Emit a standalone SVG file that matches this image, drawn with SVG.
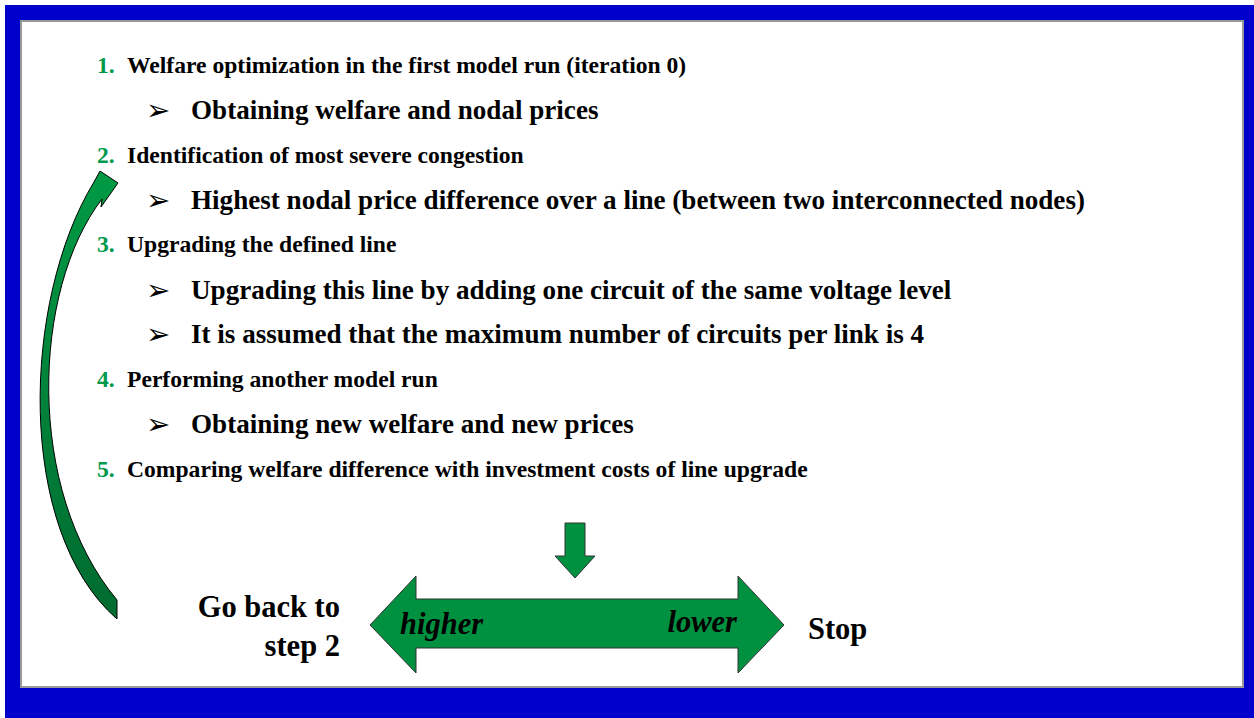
<svg xmlns="http://www.w3.org/2000/svg" width="1254" height="718" viewBox="0 0 1254 718">
<style>
.num{font-family:"Liberation Serif",serif;font-weight:bold;font-size:23.6px;fill:#00994C}
.item{font-family:"Liberation Serif",serif;font-weight:bold;font-size:23.6px;fill:#000}
.bul{font-family:"DejaVu Sans",sans-serif;font-size:29px;fill:#000}
.sub{font-family:"Liberation Serif",serif;font-weight:bold;font-size:27.1px;fill:#000}
.lbl{font-family:"Liberation Serif",serif;font-weight:bold;font-size:30.5px;fill:#000}
.it{font-family:"Liberation Serif",serif;font-weight:bold;font-style:italic;font-size:30.5px;fill:#000}
.garrow{fill:#009140;stroke:#333;stroke-width:1}
</style>
<defs>
<linearGradient id="cg" x1="0" y1="0" x2="0" y2="1">
<stop offset="0" stop-color="#009A44"/>
<stop offset="1" stop-color="#006B30"/>
</linearGradient>
</defs>
<rect x="0" y="0" width="1254" height="718" fill="#fff"/>
<rect x="5" y="5" width="1249" height="713" fill="#0000CC"/>
<rect x="21" y="21" width="1222" height="666" fill="#fff" stroke="#999" stroke-width="2"/>

<g id="list">
<text class="num" x="97" y="73">1.</text><text class="item" x="127" y="73">Welfare optimization in the first model run (iteration 0)</text>
<text class="bul" x="146" y="120">➢</text><text class="sub" x="191" y="119">Obtaining welfare and nodal prices</text>
<text class="num" x="97" y="163">2.</text><text class="item" x="127" y="163">Identification of most severe congestion</text>
<text class="bul" x="146" y="210">➢</text><text class="sub" x="191" y="209">Highest nodal price difference over a line (between two interconnected nodes)</text>
<text class="num" x="97" y="252">3.</text><text class="item" x="127" y="252">Upgrading the defined line</text>
<text class="bul" x="146" y="300">➢</text><text class="sub" x="191" y="299">Upgrading this line by adding one circuit of the same voltage level</text>
<text class="bul" x="146" y="344">➢</text><text class="sub" x="191" y="343">It is assumed that the maximum number of circuits per link is 4</text>
<text class="num" x="97" y="387">4.</text><text class="item" x="127" y="387">Performing another model run</text>
<text class="bul" x="146" y="434">➢</text><text class="sub" x="191" y="433">Obtaining new welfare and new prices</text>
<text class="num" x="97" y="477">5.</text><text class="item" x="127" y="477">Comparing welfare difference with investment costs of line upgrade</text>
</g>

<g id="connectors">
<path id="loop-arrow" d="M100 171 L118 183 L101 207 L102 199 C32 290 25 490 117 600 L117 619 C15 530 22 300 94 182 Z" fill="url(#cg)" stroke="#000" stroke-width="1"/>
<path id="down-arrow" class="garrow" d="M565 523 L585 523 L585 556 L595 556 L575 578 L555 556 L565 556 Z"/>
</g>

<g id="decision">
<path class="garrow" d="M370 625 L416 576 L416 599 L738 599 L738 576 L784 625 L738 673 L738 648 L416 648 L416 673 Z"/>
<text class="it" x="400" y="634">higher</text>
<text class="it" x="737" y="632" text-anchor="end">lower</text>
</g>

<g id="goback">
<text class="lbl" x="340" y="617" text-anchor="end">Go back to</text>
<text class="lbl" x="340" y="656" text-anchor="end">step 2</text>
</g>
<g id="stop">
<text class="lbl" x="808" y="639">Stop</text>
</g>
</svg>
